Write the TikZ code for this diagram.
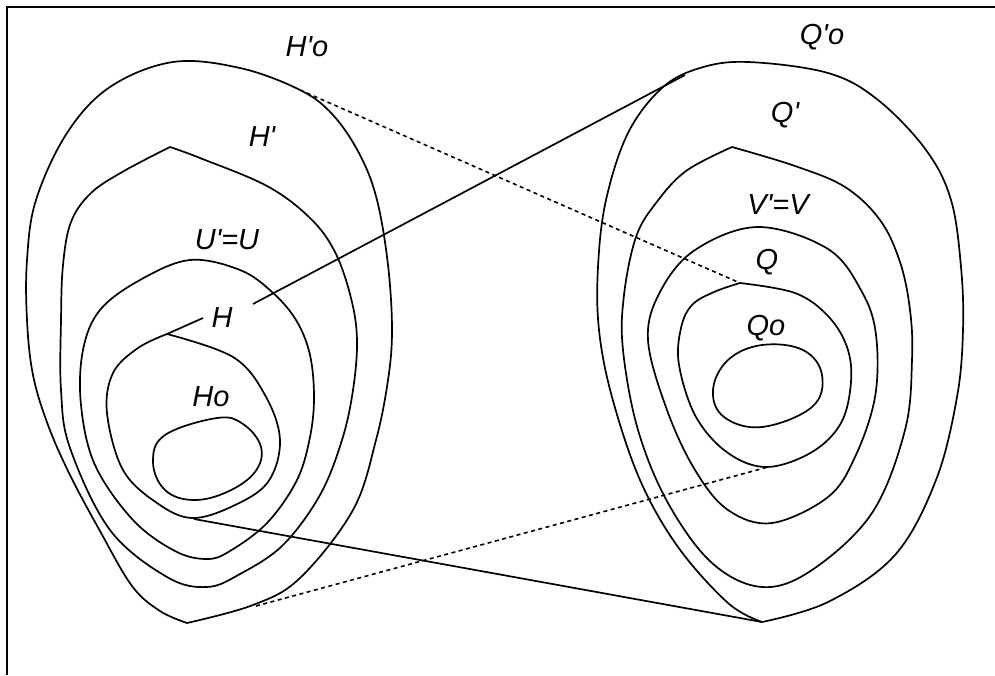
\documentclass[tikz,border=0pt]{standalone}
\usepackage{fontspec}
\setmainfont{Liberation Sans}
\newcommand{\tick}{\textquotesingle}
\begin{document}
\begin{tikzpicture}[x=1pt,y=-1pt,
  curve/.style={line width=1.7pt,line join=round,line cap=round},
  link/.style={line width=1.7pt},
  dlink/.style={line width=1.6pt,dash pattern=on 4pt off 3.5pt},
  lab/.style={font=\fontsize{29}{29}\selectfont\itshape,inner sep=0pt}]
\useasboundingbox (0,0) rectangle (995,675);
% frame: top and left edges only
\draw[line width=1.8pt] (995,7) -- (7,7) -- (7,675);

% ---------- left family ----------
% H'o (outer, pointed at the bottom)
\draw[curve] plot[smooth,tension=0.6] coordinates {
  (187,623) (160,611) (132,586) (100,531) (70,475) (48,425) (33,375) (27,320)
  (27,260) (36,200) (67,133) (110,87) (173,62) (240,68) (300,90) (333,115)
  (360,155) (377,200) (388,265) (392,330) (388,380) (376,440) (353,510)
  (300,578) (253,605) (187,623)};
% H' (pointed at the top)
\draw[curve] plot[smooth,tension=0.6] coordinates {
  (170,147) (200,158) (267,186) (310,218) (335,252) (351,298) (357,340)
  (353,390) (342,440) (320,495) (283,545) (240,574) (207,587) (167,577)
  (110,530) (70,448) (61,390) (61,320) (63,265) (71,222) (91,193) (124,171)
  (170,147)};
% U'=U
\draw[curve] plot[smooth cycle,tension=0.6] coordinates {
  (190,260) (240,270) (272,292) (296,320) (310,355) (314,400) (309,442)
  (296,482) (267,523) (230,551) (207,559) (175,551) (133,520) (95,465)
  (81,405) (83,350) (100,310) (140,280)};
% H (pointed at the top left)
\draw[curve] plot[smooth,tension=0.6] coordinates {
  (167,334) (233,357) (265,395) (280,440) (268,482) (233,506) (192,518)
  (157,503) (123,470) (107,413) (113,373) (138,348) (167,334)};
% Ho
\draw[curve] plot[smooth cycle,tension=0.65] coordinates {
  (217,418) (243,424) (261,447) (255,472) (227,492) (193,500) (165,490)
  (153,462) (165,435)};

% ---------- right family ----------
% Q'o (outer, pointed at the bottom)
\draw[curve] plot[smooth,tension=0.6] coordinates {
  (762,622) (728,603) (678,547) (640,480) (612,397) (599,330) (598,267)
  (606,200) (628,133) (662,88) (700,68) (748,62) (828,73) (878,100)
  (926,150) (951,200) (961,267) (963,330) (957,397) (936,480) (895,555)
  (828,602) (762,622)};
% Q' (pointed at the top)
\draw[curve] plot[smooth,tension=0.6] coordinates {
  (732,147) (795,166) (845,187) (880,220) (900,262) (910,310) (912,360)
  (905,430) (872,513) (812,570) (762,587) (712,563) (668,503) (638,430)
  (623,350) (624,295) (636,237) (656,203) (686,171) (732,147)};
% V'=V
\draw[curve] plot[smooth cycle,tension=0.6] coordinates {
  (758,227) (828,249) (862,292) (876,335) (875,397) (855,457) (828,497)
  (772,523) (728,510) (695,470) (667,410) (648,340) (660,292) (695,250)};
% Q (pointed at the top left)
\draw[curve] plot[smooth,tension=0.6] coordinates {
  (740,283) (795,293) (828,316) (847,347) (851,382) (841,423) (812,452)
  (767,467) (728,453) (696,417) (679,365) (681,328) (692,305) (714,292)
  (740,283)};
% Qo
\draw[curve] plot[smooth cycle,tension=0.65] coordinates {
  (762,345) (803,350) (822,375) (812,407) (762,427) (724,417) (713,390)
  (728,360)};

% ---------- labels ----------
\node[lab] (lHo2) at (307,47)  {H\tick o};
\node[lab] (lHp)  at (262,137) {H\tick};
\node[lab] (lUU)  at (227,240) {U\tick=U};
\node[lab] (lH)   at (222,318) {H};
\node[lab] (lHo)  at (211,397) {Ho};
\node[lab] (lQo2) at (822,37)  {Q\tick o};
\node[lab] (lQp)  at (785,115) {Q\tick};
\node[lab] (lVV)  at (778,205) {V\tick=V};
\node[lab] (lQ)   at (767,262) {Q};
\node[lab] (lQo)  at (766,328) {Qo};

% ---------- connector end points ----------
\coordinate (hcorner) at (167,334);
\coordinate (hpoint)  at (203,318);
\coordinate (hmid)    at (253,304);
\coordinate (qtop)    at (685,75);
\coordinate (hbot)    at (194,519);
\coordinate (qbot)    at (762,622);
\coordinate (houtA)   at (300,90);
\coordinate (qcorner) at (740,283);
\coordinate (houtB)   at (256,606);
\coordinate (qlow)    at (768,467);

% ---------- connectors ----------
\draw[link] (hcorner) -- (hpoint);
\draw[link] (hmid) -- (qtop);
\draw[link] (hbot) -- (qbot);
\draw[dlink] (houtA) -- (qcorner);
\draw[dlink] (houtB) -- (qlow);
\end{tikzpicture}
\end{document}
